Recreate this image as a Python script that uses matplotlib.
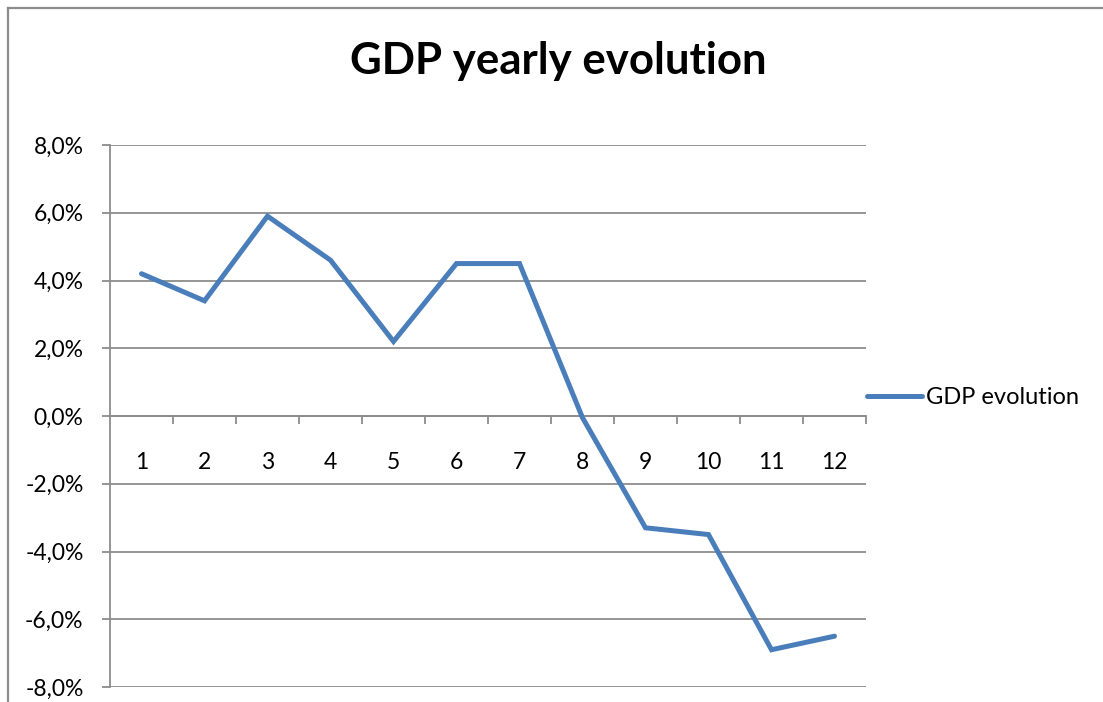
import numpy as np
import matplotlib
matplotlib.use('Agg')
import matplotlib.pyplot as plt
from matplotlib.lines import Line2D
from matplotlib.ticker import FuncFormatter, FixedLocator

plt.rcParams['font.family'] = ['Lato', 'DejaVu Sans']

years = ['1', '2', '3', '4', '5', '6', '7', '8', '9', '10', '11', '12']
gdp = [4.2, 3.4, 5.9, 4.6, 2.2, 4.5, 4.5, -0.05, -3.3, -3.5, -6.9, -6.5]
y_ticks = [-8, -6, -4, -2, 0, 2, 4, 6, 8]

W, H = 1103, 702
fig = plt.figure(figsize=(W / 100, H / 100), dpi=100)
ax = fig.add_axes([110 / W, 15 / H, 756 / W, 542 / H])

grid_col = '#8c8c8c'
x = np.arange(1, len(years) + 1)

ax.set_xlim(0.5, len(years) + 0.5)
ax.set_ylim(-8, 8)

# horizontal gridlines
for v in y_ticks:
    ax.axhline(v, color=grid_col, lw=1.3, zorder=1)

ax.plot(x, gdp, color='#4a7ebb', lw=3.6, solid_joinstyle='miter',
        solid_capstyle='round', label='GDP evolution', zorder=3)

for s in ['top', 'right']:
    ax.spines[s].set_visible(False)
ax.spines['left'].set_color(grid_col)
ax.spines['left'].set_linewidth(1.3)
ax.spines['bottom'].set_position(('data', 0))
ax.spines['bottom'].set_color(grid_col)
ax.spines['bottom'].set_linewidth(1.3)

ax.yaxis.set_major_locator(FixedLocator(y_ticks))
ax.yaxis.set_major_formatter(FuncFormatter(lambda v, p: f'{v:.1f}%'.replace('.', ',')))
ax.tick_params(axis='y', length=6, width=1.3, color=grid_col, pad=13,
               labelsize=16.5, labelcolor='black')

# ticks between categories, labels centred on categories
ax.xaxis.set_major_locator(FixedLocator(np.arange(1.5, len(years) + 1, 1)))
ax.xaxis.set_major_formatter(FuncFormatter(lambda v, p: ''))
ax.xaxis.set_minor_locator(FixedLocator(x))
ax.set_xticklabels(years, minor=True)
ax.tick_params(axis='x', which='major', direction='out', length=6, width=1.3,
               color=grid_col)
ax.tick_params(axis='x', which='minor', length=0, pad=26, labelsize=16.5)

fig.text(558 / W, 1 - 61 / H, 'GDP yearly evolution', ha='center', va='center',
         fontsize=31.5, fontweight='bold')

ax.legend(loc='center left', bbox_to_anchor=(867 / W, 1 - 398 / H),
          bbox_transform=fig.transFigure, frameon=False, fontsize=17,
          handlelength=2.35, handletextpad=0.17, borderpad=0, borderaxespad=0)

# chart area border
fig.add_artist(Line2D([8 / W, 1], [1 - 8 / H, 1 - 8 / H], color='#8c8c8c', lw=1.6,
                      transform=fig.transFigure))
fig.add_artist(Line2D([8 / W, 8 / W], [0, 1 - 8 / H], color='#8c8c8c', lw=1.6,
                      transform=fig.transFigure))

fig.savefig('out.png', dpi=100)
